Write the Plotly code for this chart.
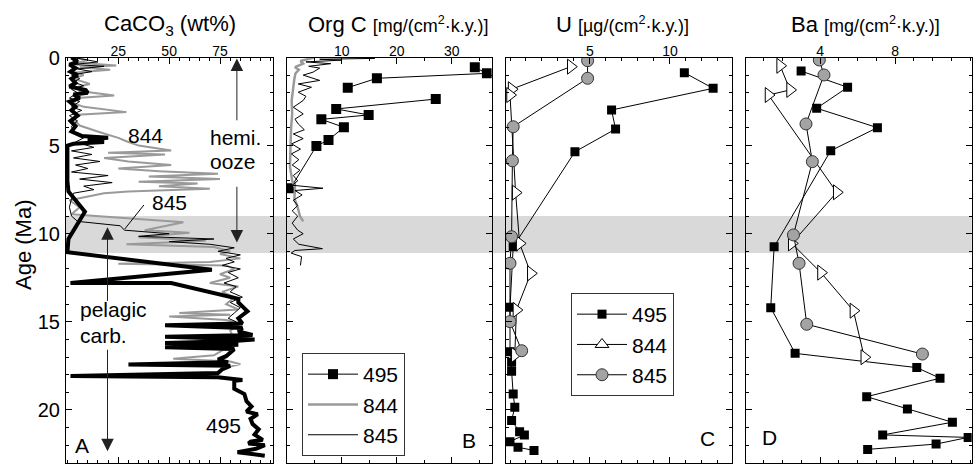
import plotly.graph_objects as go

W, H = 979, 466
FONT = "Liberation Sans, Arial, Helvetica, sans-serif"

# ---------------- DATA ----------------
# Panel A: CaCO3 (wt%) vs age (Ma)
a495_age = [0.0, 0.25, 0.4, 0.6, 0.8, 1.0, 1.2, 1.45, 1.65, 1.85, 2.0, 2.1, 2.3, 2.5, 2.8, 3.0, 3.3, 3.6, 3.9,
            4.2, 4.45, 4.55, 4.65, 4.8, 4.9, 5.0, 6.0, 7.0, 7.6, 8.75, 10.3, 11.05, 12.05, 12.8, 12.8, 13.5,
            13.7, 13.9, 14.4, 14.8, 15.1, 15.2, 15.35, 15.55, 15.75, 15.85, 16.0, 16.1, 16.2, 16.3, 16.45,
            16.55, 16.75, 16.95, 17.15, 17.3, 17.42, 17.5, 17.7, 17.9, 18.08, 18.15, 18.3, 18.35, 18.8, 19.1,
            19.5, 19.8, 20.1, 20.25, 20.5, 20.8, 21.1, 21.4, 21.7, 21.8, 21.9, 22.0, 22.2, 22.4, 22.6]
a495_val = [2, 5, 1, 4, 1.5, 5, 2, 4, 1, 9, 10, 3, 6, 1, 4, 2, 5, 1.5, 4,
            2, 7, 20, 10, 18, 3, 0, 0, 0, 0.5, 8.6, 0.5, 0, 71, 1.5, 51, 77,
            84, 84, 88.5, 84, 86, 48, 86, 84, 91, 48, 92, 80, 48, 84, 48,
            82, 80, 78, 74, 79, 30, 80, 76, 74, 1.5, 74, 86, 82, 82, 87,
            88, 90.5, 88, 93.5, 90, 91, 94, 92, 96, 90, 89, 97, 93, 83.6, 97]

a844_age = [0.0, 0.15, 0.3, 0.45, 0.55, 0.7, 0.85, 1.0, 1.2, 1.5, 1.7, 1.9, 2.16, 2.3, 2.6, 2.8, 3.1, 3.25,
            3.5, 3.86, 4.24, 4.56, 4.75, 5.0, 5.28, 5.4, 5.5, 5.7, 5.9, 6.1, 6.3, 6.45, 6.6, 6.75, 6.9, 7.05,
            7.15, 7.3, 7.45, 7.6, 7.7, 8.1, 8.5, 8.9, 9.35, 9.8, 9.95, 10.2, 10.4, 10.6, 10.75, 11.0, 11.15,
            11.4, 11.6, 11.7, 11.8, 12.0, 12.3, 12.5, 12.8, 13.0, 13.3, 13.6, 14.0, 14.3, 14.5, 14.6, 14.7,
            14.9, 15.1, 15.5, 16.0, 16.5, 16.9, 17.1, 17.25, 17.4, 17.6]
a844_val = [3, 10, 5, 24, 6, 21, 4, 8, 3, 11, 4, 6, 23, 5, 3, 8, 29, 5,
            3, 6, 16, 25, 29, 35, 51, 20, 48, 18, 30, 51, 25, 45, 74, 40, 75, 35,
            64, 45, 70, 30, 18, 1, 6, 2, 57, 38, 60, 35, 68, 29, 72, 80, 75,
            85, 70, 25, 78, 82, 75, 80, 70, 84, 76, 82, 78, 84, 55, 80, 50,
            78, 85, 80, 82, 78, 72, 52, 80, 85, 78]

a845_age = [0.0, 0.1, 0.25, 0.4, 0.5, 0.65, 0.8, 1.0, 1.2, 1.4, 1.6, 1.8, 2.0, 2.3, 2.5, 2.8, 3.0, 3.3, 3.6,
            3.9, 4.2, 4.5, 4.8, 5.1, 5.3, 5.5, 5.7, 5.9, 6.1, 6.3, 6.5, 6.7, 6.9, 7.1, 7.3, 7.5, 7.7, 8.0, 8.5,
            9.0, 9.3, 9.55, 9.8, 10.0, 10.15, 10.3, 10.45, 10.6, 10.8, 11.0, 11.2, 11.4, 11.6, 11.8, 12.0,
            12.2, 12.5, 12.8, 13.0, 13.3, 13.6, 13.9, 14.2, 14.5, 14.8, 15.0]
a845_val = [3, 8, 15, 3, 18, 5, 12, 2, 6, 3, 8, 2, 5, 1, 6, 2, 7, 1, 5,
            2, 3, 9, 4, 13, 2, 12, 3, 16, 4, 10, 2, 20, 6, 22, 8, 13, 3, 2, 1,
            2, 5, 26, 28, 50, 35, 72, 50, 70, 82, 74, 85, 78, 82, 76, 85,
            79, 84, 77, 83, 80, 86, 80, 85, 82, 79, 83]

# Panel B: Org C flux [mg/(cm2 k.y.)]
b495_age = [0.56, 0.90, 1.18, 1.71, None, 2.36, 2.92, 3.26, 3.51, 3.96, 4.68, 5.02, 7.42]
b495_val = [34.2, 36.4, 16.4, 11.1, None, 27.1, 9.0, 14.9, 6.3, 10.4, 7.6, 5.4, 0.7]
b844_age = [0.0, 0.1, 0.2, 0.35, 0.55, 0.7, 0.9, 1.2, 1.7, 2.45, 3.2, 4.0, 5.0, 6.2, 7.0, 7.4, 8.0, 8.5, 9.0, 9.3]
b844_val = [5.0, 3.6, 2.5, 3.0, 1.5, 2.2, 1.6, 1.4, 1.2, 0.9, 1.0, 0.8, 0.7, 0.6, 1.0, 1.5, 1.4, 2.0, 2.4, 3.0]
b845_age = [0.0, 0.05, 0.1, 0.15, 0.25, 0.35, 0.5, 0.6, 0.83, 1.0, 1.3, 1.5, 1.69, 1.97, 2.2, 2.44, 2.82,
            3.2, 3.5, 3.77, 4.1, 4.34, 4.6, 4.9, 5.2, 5.47, 5.8, 6.1, 6.4, 6.7, 7.0, 7.25, 7.42, 7.55, 7.8,
            8.1, 8.4, 8.7, 9.0, 9.4, 9.8, 10.0, 10.3, 10.6, 10.85, 10.95, 11.1, 11.3, 11.8]
b845_val = [13, 16, 6, 10, 3.5, 8, 4, 6, 4.8, 3, 6, 2.1, 4.5, 2.1, 3.5, 3.0, 1.2,
            3.0, 1.5, 2.1, 3.2, 1.2, 3, 0.9, 2.5, 0.85, 2.2, 1.0, 2.4, 1.2, 2.0, 1.0, 6.6, 1.5, 2.8,
            1.2, 2.0, 1.0, 2.0, 1.0, 2.0, 3.0, 1.2, 2.2, 6.5, 1.5, 0.8, 2.7, 2.5]

# Panel C: U flux [ug/(cm2 k.y.)]
c495_age = [0.86, 1.75, 2.98, 4.06, 5.35, 10.74, 14.18, 16.7, 17.3, 17.8, 19.1, 19.85, 20.6, 21.24, 21.42, 21.8, 22.12, 22.3]
c495_val = [10.9, 12.7, 6.35, 6.6, 4.06, 0.2, 0.0, 0.0, 0.1, 0.1, 0.2, 0.3, 0.1, 0.6, 0.9, 0.0, 0.5, 1.5]
c844_age = [0.52, 1.8, 2.13, 7.67, 10.55, 12.25, 14.33, 16.88]
c844_val = [3.8, 0.1, 0.0, 0.35, 0.6, 1.3, 0.4, 0.3]
c845_age = [0.18, 1.18, 3.93, 5.86, 10.17, 11.68, 14.99, 16.64]
c845_val = [4.85, 4.85, 0.2, 0.15, 0.1, 0.0, 0.0, 0.73]

# Panel D: Ba flux [mg/(cm2 k.y.)]
d495_age = [0.77, 1.69, 2.88, 3.98, 5.29, 10.74, 14.2, 16.79, 17.6, 18.2, 19.25, 19.95, 20.7, 21.42, 21.56, 21.94, 22.24]
d495_val = [2.99, 5.47, 3.82, 7.06, 4.57, 1.55, 1.37, 2.67, 9.16, 10.4, 6.49, 8.66, 11.06, 7.34, 11.9, 10.19, 6.54]
d844_age = [0.47, 1.84, 2.13, 7.65, 10.55, 12.21, 14.37, 17.01]
d844_val = [1.87, 2.4, 1.25, 4.89, 2.49, 4.05, 5.78, 6.36]
d845_age = [0.14, 0.99, 3.77, 5.91, 10.07, 11.68, 15.14, 16.83]
d845_val = [3.96, 4.21, 3.25, 3.59, 2.58, 2.88, 3.29, 9.46]

sites = ["495", "844", "845"]
band_age = [9.0, 11.1]

# ---------------- FIGURE ----------------
fig = go.Figure()

GRAY = "#9a9a9a"
CIRC = "#a3a3a3"

# Panel A
fig.add_trace(go.Scatter(x=a844_val, y=a844_age, mode="lines", line=dict(color=GRAY, width=2),
                         xaxis="x", yaxis="y", showlegend=False))
fig.add_trace(go.Scatter(x=a845_val, y=a845_age, mode="lines", line=dict(color="black", width=1),
                         xaxis="x", yaxis="y", showlegend=False))
fig.add_trace(go.Scatter(x=a495_val, y=a495_age, mode="lines", line=dict(color="black", width=4),
                         xaxis="x", yaxis="y", showlegend=False))

# Panel B
fig.add_trace(go.Scatter(x=b495_val, y=b495_age, mode="lines+markers", name=sites[0],
                         line=dict(color="black", width=1),
                         marker=dict(symbol="square", size=10, color="black"),
                         xaxis="x2", yaxis="y2", legend="legend"))
fig.add_trace(go.Scatter(x=b844_val, y=b844_age, mode="lines", name=sites[1],
                         line=dict(color=GRAY, width=2.5), xaxis="x2", yaxis="y2", legend="legend"))
fig.add_trace(go.Scatter(x=b845_val, y=b845_age, mode="lines", name=sites[2],
                         line=dict(color="black", width=1), xaxis="x2", yaxis="y2", legend="legend"))

# Panel C
fig.add_trace(go.Scatter(x=c495_val, y=c495_age, mode="lines+markers", name=sites[0],
                         line=dict(color="black", width=1),
                         marker=dict(symbol="square", size=9, color="black"),
                         xaxis="x3", yaxis="y3", legend="legend2"))
fig.add_trace(go.Scatter(x=c844_val, y=c844_age, mode="lines+markers", name=sites[1],
                         line=dict(color="black", width=1),
                         marker=dict(symbol="triangle-right", size=13, color="white",
                                     line=dict(color="black", width=1)),
                         xaxis="x3", yaxis="y3", showlegend=False))
fig.add_trace(go.Scatter(x=[None], y=[None], mode="lines+markers", name=sites[1],
                         line=dict(color="black", width=1),
                         marker=dict(symbol="triangle-up", size=12, color="white",
                                     line=dict(color="black", width=1)),
                         xaxis="x3", yaxis="y3", legend="legend2"))
fig.add_trace(go.Scatter(x=c845_val, y=c845_age, mode="lines+markers", name=sites[2],
                         line=dict(color="black", width=1),
                         marker=dict(symbol="circle", size=12, color=CIRC,
                                     line=dict(color="#333", width=1)),
                         xaxis="x3", yaxis="y3", legend="legend2"))

# Panel D
fig.add_trace(go.Scatter(x=d495_val, y=d495_age, mode="lines+markers",
                         line=dict(color="black", width=1),
                         marker=dict(symbol="square", size=9, color="black"),
                         xaxis="x4", yaxis="y4", showlegend=False))
fig.add_trace(go.Scatter(x=d844_val, y=d844_age, mode="lines+markers",
                         line=dict(color="black", width=1),
                         marker=dict(symbol="triangle-right", size=13, color="white",
                                     line=dict(color="black", width=1)),
                         xaxis="x4", yaxis="y4", showlegend=False))
fig.add_trace(go.Scatter(x=d845_val, y=d845_age, mode="lines+markers",
                         line=dict(color="black", width=1),
                         marker=dict(symbol="circle", size=12, color=CIRC,
                                     line=dict(color="#333", width=1)),
                         xaxis="x4", yaxis="y4", showlegend=False))

# ---------------- AXES ----------------
ydom = [1 - 463.3 / H, 1 - 57.5 / H]
panels = [
    ("", [66, 272.7], [-0.7, 100.9], [25, 50, 75], 5),
    ("2", [286.7, 491.7], [0, 37.27], [10, 20, 30], 5),
    ("3", [506, 731.7], [-0.25, 13.86], [5, 10], 1),
    ("4", [746, 971.7], [0.05, 12.09], [4, 8], 1),
]
lay = {}
for i, (sfx, px, rng, tv, mdt) in enumerate(panels):
    lay["xaxis" + sfx] = dict(
        domain=[px[0] / W, px[1] / W], range=rng, side="top", anchor="y" + sfx, automargin=False,
        tickmode="array", tickvals=tv, ticks="inside", ticklen=6, tickwidth=1, tickcolor="black",
        showline=True, linecolor="black", linewidth=1.2, mirror="ticks",
        showgrid=False, zeroline=False, ticklabelstandoff=-5,
        tickfont=dict(family=FONT, size=14, color="black"),
        minor=dict(ticks="inside", ticklen=3, tick0=0, dtick=mdt, tickcolor="black", showgrid=False),
    )
    lay["yaxis" + sfx] = dict(
        domain=ydom, range=[23.03, 0], anchor="x" + sfx, automargin=False,
        tickmode="linear", tick0=0, dtick=5, ticks="inside", ticklen=6, tickwidth=1, tickcolor="black",
        showline=True, linecolor="black", linewidth=1.2, mirror="ticks",
        showgrid=False, zeroline=False, showticklabels=(i == 0), ticklabelstandoff=1,
        tickfont=dict(family=FONT, size=20, color="black"),
        minor=dict(ticks="inside", ticklen=3, tick0=0, dtick=1, tickcolor="black", showgrid=False),
    )

fig.update_layout(**lay)

# gray band (all panels)
fig.add_shape(type="rect", xref="paper", yref="y", x0=66 / W, x1=971.7 / W,
              y0=band_age[0], y1=band_age[1], fillcolor="#d9d9d9", line=dict(width=0), layer="below")

# 845 leader line in panel A
fig.add_shape(type="line", xref="x", yref="y", x0=37.6, y0=8.37, x1=28.2, y1=9.73,
              line=dict(color="black", width=1))


def pa(x, y):
    return x / W, 1 - y / H


anns = []
# Panel titles
titles = [
    (170, "CaCO<sub>3</sub> (wt%)"),
    (398, "Org C <span style='font-size:18px'>[mg/(cm<sup>2</sup>·k.y.)]</span>"),
    (622, "U <span style='font-size:18px'>[µg/(cm<sup>2</sup>·k.y.)]</span>"),
    (865, "Ba <span style='font-size:18px'>[mg/(cm<sup>2</sup>·k.y.)]</span>"),
]
for cx, t in titles:
    x, y = pa(cx, 25)
    anns.append(dict(x=x, y=y, xref="paper", yref="paper", text=t, showarrow=False,
                     xanchor="center", yanchor="middle",
                     font=dict(family=FONT, size=22, color="black")))

# y axis title
x, y = pa(24, 245)
anns.append(dict(x=x, y=y, xref="paper", yref="paper", text="Age (Ma)", textangle=-90, showarrow=False,
                 xanchor="center", yanchor="middle",
                 font=dict(family=FONT, size=22, color="black")))

# Text labels in panel A and panel letters
labels = [
    (145.5, 135, "844", "center"), (169, 202.5, "845", "center"),
    (208, 137, "hemi.", "left"), (208, 161, "ooze", "left"),
    (78, 309, "pelagic", "left"), (78, 335, "carb.", "left"),
    (223, 425, "495", "center"),
    (82, 445, "A", "center"), (469, 440, "B", "center"), (707, 438, "C", "center"), (769, 437, "D", "center"),
]
for cx, cy, t, xa in labels:
    x, y = pa(cx, cy)
    anns.append(dict(x=x, y=y, xref="paper", yref="paper", text=t, showarrow=False,
                     xanchor=xa, yanchor="middle",
                     font=dict(family=FONT, size=21, color="black")))

# arrows in panel A (tip, tail) in data coords
arrows = [
    (83.3, 0.05, 83.3, 3.65),
    (83.3, 10.5, 83.3, 7.25),
    (19.7, 9.63, 19.7, 13.9),
    (19.7, 22.35, 19.7, 16.5),
]
for xt, yt, xs, ys in arrows:
    anns.append(dict(x=xt, y=yt, ax=xs, ay=ys, xref="x", yref="y", axref="x", ayref="y", text="",
                     showarrow=True, arrowhead=2, arrowsize=2.5, arrowwidth=1, arrowcolor="#222"))

fig.update_layout(
    annotations=anns,
    width=W, height=H,
    margin=dict(l=0, r=0, t=0, b=0),
    paper_bgcolor="white", plot_bgcolor="rgba(0,0,0,0)",
    font=dict(family=FONT, color="black"),
    legend=dict(x=302 / W, y=1 - 353 / H, xanchor="left", yanchor="top", bgcolor="white",
                bordercolor="#333", borderwidth=1, font=dict(family=FONT, size=21, color="black"),
                itemwidth=50, tracegroupgap=0),
    legend2=dict(x=571 / W, y=1 - 293 / H, xanchor="left", yanchor="top", bgcolor="white",
                 bordercolor="#333", borderwidth=1, font=dict(family=FONT, size=21, color="black"),
                 itemwidth=50, tracegroupgap=0, entrywidth=85, entrywidthmode="pixels"),
)

fig.write_html("out.html", config={"displayModeBar": False},
               post_script="document.body.style.margin='0';document.body.style.padding='0';"
                           "document.documentElement.style.overflow='hidden';")
